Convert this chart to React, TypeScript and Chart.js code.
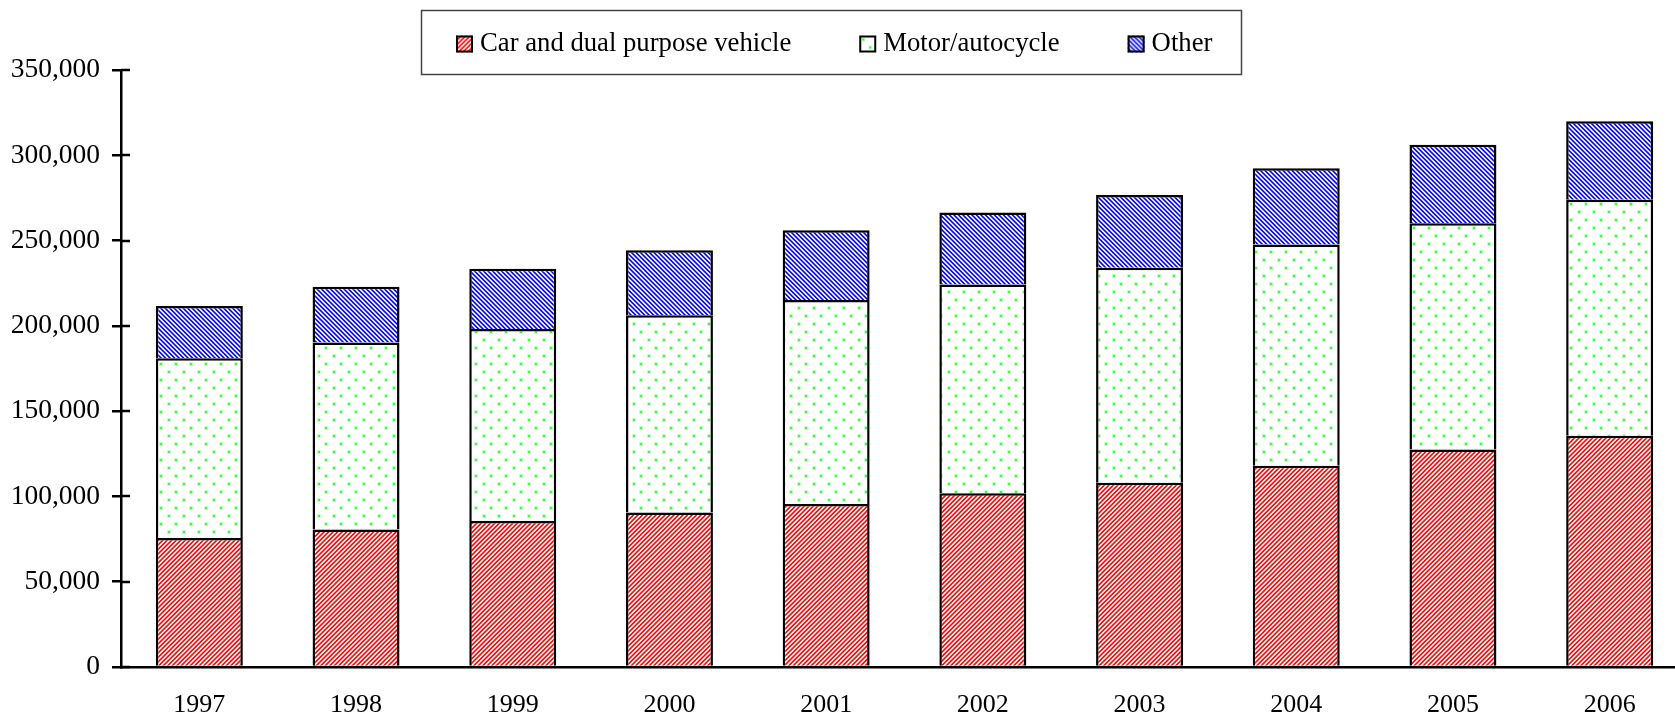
import React, { useEffect, useRef } from "react";
import { Chart, registerables } from "chart.js";

Chart.register(...registerables);

const years = ["1997", "1998", "1999", "2000", "2001", "2002", "2003", "2004", "2005", "2006"];
const carValues = [75600, 80600, 85600, 90600, 95600, 101900, 108000, 118000, 127500, 135600];
const motorValues = [105400, 109600, 112600, 115600, 119600, 122300, 126000, 129700, 132700, 138400];
const otherValues = [30600, 32800, 35300, 38100, 40800, 42300, 42700, 44700, 46000, 46000];
const seriesNames = ["Car and dual purpose vehicle", "Motor/autocycle", "Other"];
const yMin = 0;
const yMax = 350000;
const yStep = 50000;

const FONT = "'Liberation Serif', 'Times New Roman', serif";
const LINE = 2.5;

function stripePattern(ctx: CanvasRenderingContext2D, rgb: number[], dir: number, period: number) {
  const size = Math.round(period * 2);
  const c = document.createElement("canvas");
  c.width = size;
  c.height = size;
  const g = c.getContext("2d")!;
  const img = g.createImageData(size, size);
  const n = 4;
  for (let y = 0; y < size; y++) {
    for (let x = 0; x < size; x++) {
      let cnt = 0;
      for (let i = 0; i < n; i++) {
        for (let j = 0; j < n; j++) {
          const sx = x + (i + 0.5) / n;
          const sy = y + (j + 0.5) / n;
          const t = dir > 0 ? sx + sy : sx - sy + size * 10;
          const ph = (((t % period) + period) % period) / period;
          if (ph < 0.5) cnt++;
        }
      }
      const cov = cnt / (n * n);
      const k = (y * size + x) * 4;
      img.data[k] = Math.round(255 * (1 - cov) + rgb[0] * cov);
      img.data[k + 1] = Math.round(255 * (1 - cov) + rgb[1] * cov);
      img.data[k + 2] = Math.round(255 * (1 - cov) + rgb[2] * cov);
      img.data[k + 3] = 255;
    }
  }
  g.putImageData(img, 0, 0);
  return ctx.createPattern(c, "repeat")!;
}

function dotPattern(ctx: CanvasRenderingContext2D) {
  const c = document.createElement("canvas");
  c.width = 15;
  c.height = 16;
  const g = c.getContext("2d")!;
  g.fillStyle = "#ffffff";
  g.fillRect(0, 0, 15, 16);
  const dot = (x: number, y: number) => {
    g.fillStyle = "#c8ffc8";
    g.fillRect(x - 1, y - 1, 4, 4);
    g.fillStyle = "#33ff33";
    g.fillRect(x, y, 2, 2);
  };
  dot(3, 3);
  dot(10, 11);
  return ctx.createPattern(c, "repeat")!;
}

export default function App() {
  const ref = useRef<HTMLCanvasElement | null>(null);

  useEffect(() => {
    const canvas = ref.current!;
    const ctx = canvas.getContext("2d")!;
    const redPat = stripePattern(ctx, [255, 0, 0], 1, 4.5);
    const bluePat = stripePattern(ctx, [0, 0, 255], -1, 4.5);
    const greenPat = dotPattern(ctx);
    const pats = [redPat, greenPat, bluePat];

    const decor = {
      id: "decor",
      afterDraw(chart: any) {
        const c: CanvasRenderingContext2D = chart.ctx;
        const ys = chart.scales.y;
        const left = chart.chartArea.left;
        c.save();
        c.strokeStyle = "#000";
        c.lineWidth = LINE;
        ys.ticks.forEach((t: any) => {
          const py = Math.round(ys.getPixelForValue(t.value));
          c.beginPath();
          c.moveTo(left, py);
          c.lineTo(left + 9, py);
          c.stroke();
        });
        // legend
        c.lineWidth = 1.5;
        c.strokeStyle = "#444";
        c.strokeRect(421.5, 10.5, 820, 64);
        c.font = `26.7px ${FONT}`;
        c.textBaseline = "middle";
        c.textAlign = "left";
        let x = 456;
        const cy = 44;
        seriesNames.forEach((name, i) => {
          c.save();
          c.translate(x, cy - 8.5);
          c.fillStyle = pats[i];
          c.fillRect(0, 0, 17, 17);
          c.restore();
          c.lineWidth = 2;
          c.strokeStyle = "#000";
          c.strokeRect(x + 1, cy - 7.5, 15, 15);
          c.fillStyle = "#000";
          c.fillText(name, x + 24, cy);
          x += 24 + c.measureText(name).width + 68;
        });
        c.restore();
      },
    };

    const chart = new Chart(canvas, {
      type: "bar",
      data: {
        labels: years,
        datasets: [
          { label: seriesNames[0], data: carValues, backgroundColor: redPat as any, borderColor: "#000", borderWidth: LINE },
          { label: seriesNames[1], data: motorValues, backgroundColor: greenPat as any, borderColor: "#000", borderWidth: LINE },
          { label: seriesNames[2], data: otherValues, backgroundColor: bluePat as any, borderColor: "#000", borderWidth: LINE },
        ],
      },
      options: {
        animation: false,
        responsive: false,
        layout: { padding: { left: 0, right: 12, top: 70, bottom: 0 } },
        datasets: { bar: { categoryPercentage: 1, barPercentage: 0.555 } },
        plugins: { legend: { display: false }, tooltip: { enabled: false } },
        scales: {
          x: {
            stacked: true,
            grid: { display: false, drawTicks: false },
            border: { display: true, color: "#000", width: LINE },
            ticks: { color: "#000", font: { family: FONT, size: 26 }, padding: 23, maxRotation: 0 },
            afterFit: (s: any) => {
              s.height = 52;
            },
          },
          y: {
            stacked: true,
            min: yMin,
            max: yMax,
            ticks: {
              stepSize: yStep,
              color: "#000",
              font: { family: FONT, size: 27.5 },
              padding: 12,
              callback: (v: any) => Number(v).toLocaleString("en-US"),
            },
            grid: { drawOnChartArea: false, drawTicks: true, tickLength: 9, color: "#000", lineWidth: LINE },
            border: { display: true, color: "#000", width: LINE },
            afterFit: (s: any) => {
              s.width = 121;
            },
          },
        },
      },
      plugins: [decor],
    });
    return () => chart.destroy();
  }, []);

  return (
    <div style={{ position: "fixed", left: 0, top: 0, width: 1675, height: 719, overflow: "hidden", background: "#fff" }}>
      <canvas ref={ref} width={1700} height={719} style={{ display: "block", width: 1700, height: 719 }} />
    </div>
  );
}
